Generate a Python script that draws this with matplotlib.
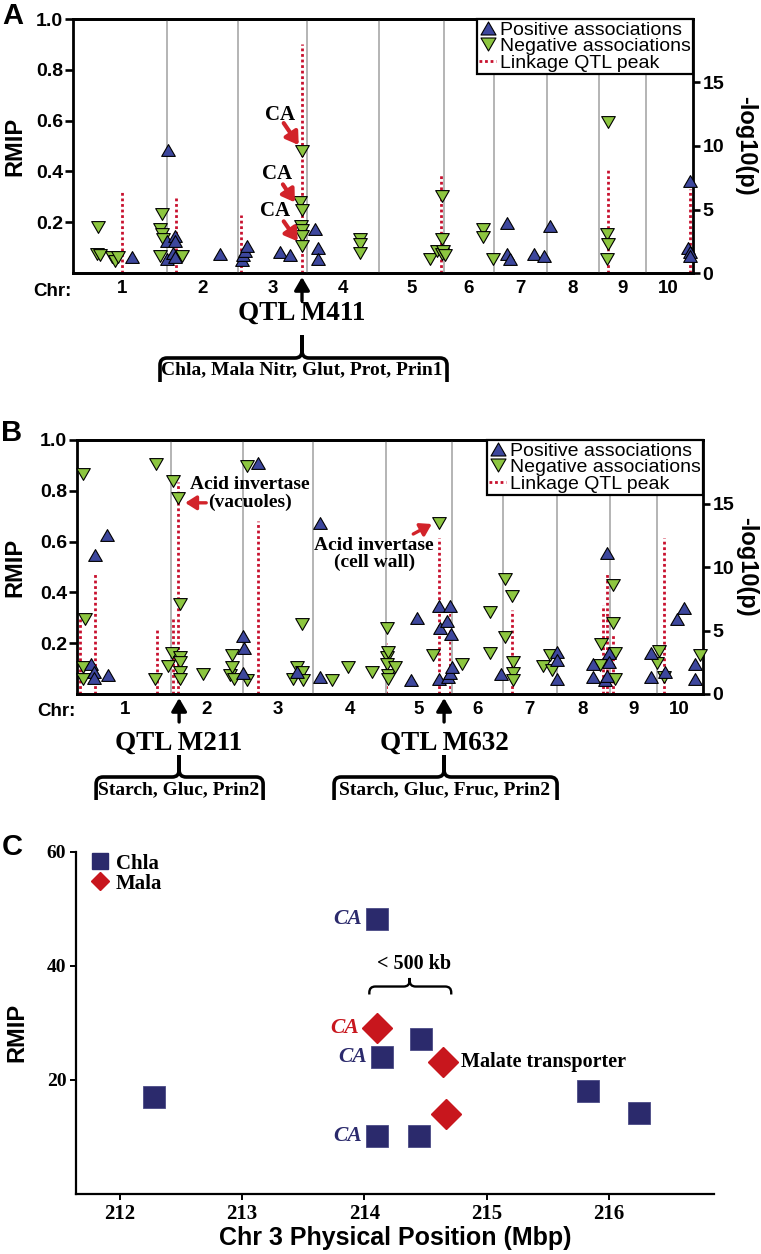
import numpy as np
import matplotlib
matplotlib.use('Agg')
import matplotlib.pyplot as plt
from matplotlib.lines import Line2D
from matplotlib.path import Path
from matplotlib.patches import PathPatch
import matplotlib.transforms as mtransforms

plt.rcParams['font.family'] = ['Liberation Sans', 'DejaVu Sans']
SERIF = ['Liberation Serif', 'DejaVu Serif']

# ------------------------------------------------------------------ data
chr_names = ['1', '2', '3', '4', '5', '6', '7', '8', '9', '10']
chr_len_mb = [301.4, 237.9, 232.2, 241.5, 217.9, 169.4, 176.8, 175.8, 156.8, 150.2]

# Panel A (genome-wide position in Mb, RMIP)
a_pos_x = [183, 300, 306, 301, 323, 328, 328, 328, 480, 552, 556, 564, 569, 681, 715,
           799, 810, 810, 1442, 1442, 1453, 1534, 1569, 1588, 2052, 2058, 2058, 2058]
a_pos_rmip = [0.062, 0.127, 0.485, 0.055, 0.080, 0.147, 0.127, 0.062, 0.075, 0.052, 0.071,
              0.088, 0.107, 0.084, 0.071, 0.173, 0.100, 0.055, 0.197, 0.075, 0.055, 0.075,
              0.066, 0.184, 0.100, 0.363, 0.081, 0.066]
a_neg_x = [68, 71, 77, 116, 127, 138, 278, 278, 284, 284, 289, 351, 748, 750, 754, 754, 754,
           754, 754, 950, 950, 950, 1185, 1207, 1224, 1224, 1224, 1229, 1235, 1364, 1364, 1397,
           1778, 1778, 1781, 1781]
a_neg_rmip = [0.075, 0.180, 0.070, 0.062, 0.048, 0.062, 0.173, 0.068, 0.232, 0.153, 0.134,
              0.068, 0.278, 0.186, 0.249, 0.169, 0.144, 0.105, 0.480, 0.134, 0.114, 0.080,
              0.055, 0.088, 0.304, 0.134, 0.075, 0.088, 0.071, 0.173, 0.140, 0.055, 0.153,
              0.055, 0.114, 0.593]
a_qtl_x = [149, 331, 550, 754, 1222, 1781, 2058]
a_qtl_logp = [6.4, 5.9, 4.6, 18.0, 7.8, 8.3, 6.6]
a_ca_x = [754, 748, 754]
a_ca_rmip = [0.480, 0.278, 0.105]
a_qtl_names = ['QTL M411']
a_qtl_pos = [755]
a_qtl_traits = ['Chla, Mala Nitr, Glut, Prot, Prin1']

# Panel B
b_pos_x = [35, 46, 46, 50, 88, 94, 539, 541, 544, 590, 717, 794, 794, 1095, 1115, 1189, 1189,
           1192, 1214, 1219, 1223, 1225, 1227, 1230, 1393, 1578, 1578, 1578, 1699, 1699, 1738,
           1744, 1744, 1752, 1752, 1889, 1889, 1937, 1977, 1999, 2036, 2036]
b_pos_rmip = [0.118, 0.088, 0.062, 0.547, 0.626, 0.075, 0.081, 0.228, 0.180, 0.911, 0.088,
              0.672, 0.066, 0.055, 0.298, 0.346, 0.058, 0.259, 0.289, 0.068, 0.081, 0.346,
              0.236, 0.107, 0.079, 0.167, 0.134, 0.058, 0.118, 0.068, 0.055, 0.554, 0.071,
              0.160, 0.127, 0.160, 0.068, 0.088, 0.294, 0.337, 0.118, 0.058]
b_neg_x = [9, 11, 11, 18, 248, 252, 290, 304, 307, 325, 331, 331, 331, 331, 331, 408, 497, 502,
           502, 508, 552, 554, 706, 717, 734, 734, 739, 835, 888, 966, 1015, 1015, 1015, 1021,
           1021, 1021, 1043, 1168, 1189, 1264, 1357, 1357, 1405, 1405, 1429, 1434, 1434, 1434,
           1532, 1554, 1561, 1721, 1724, 1763, 1763, 1771, 1771, 1909, 1918, 1933, 2052]
b_neg_rmip = [0.866, 0.107, 0.058, 0.294, 0.058, 0.906, 0.110, 0.160, 0.839, 0.770, 0.354,
              0.147, 0.127, 0.088, 0.058, 0.079, 0.075, 0.154, 0.107, 0.058, 0.055, 0.898,
              0.058, 0.107, 0.276, 0.088, 0.055, 0.055, 0.107, 0.088, 0.259, 0.147, 0.118,
              0.167, 0.075, 0.058, 0.107, 0.154, 0.672, 0.118, 0.324, 0.163, 0.451, 0.226,
              0.386, 0.127, 0.081, 0.055, 0.110, 0.154, 0.094, 0.114, 0.197, 0.429, 0.278,
              0.160, 0.058, 0.123, 0.170, 0.066, 0.154]
b_qtl_x = [1, 50, 254, 307, 323, 590, 1013, 1189, 1225, 1429, 1732, 1745, 1763, 1933]
b_qtl_logp = [6.1, 9.6, 5.2, 5.9, 16.7, 13.6, 4.0, 12.3, 6.4, 6.6, 7.0, 9.6, 4.7, 12.3]
b_vac_x, b_vac_rmip = 325, 0.770
b_cw_x, b_cw_rmip = 1189, 0.672
b_qtl_names = ['QTL M211', 'QTL M632']
b_qtl_pos = [328, 1205]
b_qtl_traits = ['Starch, Gluc, Prin2', 'Starch, Gluc, Fruc, Prin2']

# Panel C
c_chla_x = [212.28, 214.10, 214.14, 214.46, 214.10, 214.45, 215.83, 216.25]
c_chla_rmip = [17.0, 48.2, 24.0, 27.2, 10.2, 10.2, 18.0, 14.2]
c_mala_x = [214.10, 214.64, 214.67]
c_mala_rmip = [29.1, 23.2, 14.0]
c_ca_chla = [1, 2, 4]
c_ca_mala = [0]

# ------------------------------------------------------------------ style
W, H = 761, 1254
BLUE = '#3D479D'
GREEN = '#8DC640'
QRED = '#C8102E'
ARED = '#D2232A'
GREY = '#B4B4B4'
NAVY = '#2B2A6C'
CRED = '#C8161D'

TRI_UP = Path([(-1, -0.866), (1, -0.866), (0, 0.866), (-1, -0.866)],
              [Path.MOVETO, Path.LINETO, Path.LINETO, Path.CLOSEPOLY])
TRI_DN = Path([(-1, 0.866), (1, 0.866), (0, -0.866), (-1, 0.866)],
              [Path.MOVETO, Path.LINETO, Path.LINETO, Path.CLOSEPOLY])
MS = 9.8

fig = plt.figure(figsize=(W / 100, H / 100), dpi=100)
PIX = mtransforms.Affine2D().scale(1.0 / W, -1.0 / H).translate(0, 1) + fig.transFigure

chr_end = np.cumsum(chr_len_mb)
chr_start = chr_end - np.array(chr_len_mb)
chr_mid = (chr_start + chr_end) / 2


def pt(v):
    return v * 0.72


def to_px(ax, x, y):
    X, Y = ax.transData.transform((x, y))
    return X, H - Y


def brace(x0, x1, xc, yh, yend, ytip, r, lw):
    verts = [(x0, yend), (x0, yh + r), (x0, yh), (x0 + r, yh), (xc - r, yh), (xc, yh),
             (xc, yh - r), (xc, ytip),
             (x1, yend), (x1, yh + r), (x1, yh), (x1 - r, yh), (xc + r, yh), (xc, yh),
             (xc, yh - r), (xc, ytip)]
    codes = [Path.MOVETO, Path.LINETO, Path.CURVE3, Path.CURVE3, Path.LINETO, Path.CURVE3,
             Path.CURVE3, Path.LINETO] * 2
    patch = PathPatch(Path(verts, codes), transform=PIX, fill=False, lw=lw, ec='black',
                      capstyle='butt', joinstyle='round')
    fig.add_artist(patch)


def manhattan(rect, xlim, px, py, nx, ny, qx, qh, ylab_x, rlab_x):
    ax = fig.add_axes(rect)
    ax2 = ax.twinx()
    ax.set_zorder(2)
    ax2.set_zorder(1)
    ax.patch.set_visible(False)
    ax.set_xlim(xlim)
    ax.set_ylim(0, 1)
    ax2.set_ylim(0, 20)
    ax.vlines(chr_end[:-1], 0, 1, colors=GREY, lw=1.4, zorder=1)
    ax2.vlines(qx, 0, qh, colors=QRED, linestyles=(0, (1, 1)), lw=2.0)
    ax.plot(nx, ny, ls='none', marker=TRI_DN, ms=MS, mfc=GREEN, mec='black', mew=0.8,
            zorder=3, clip_on=False)
    ax.plot(px, py, ls='none', marker=TRI_UP, ms=MS, mfc=BLUE, mec='black', mew=0.8,
            zorder=3, clip_on=False)
    for a in (ax, ax2):
        for s in a.spines.values():
            s.set_linewidth(2.0)
    ax.spines['right'].set_visible(False)
    ax2.spines['left'].set_visible(False)
    ax.set_yticks([0.2, 0.4, 0.6, 0.8, 1.0], ['0.2', '0.4', '0.6', '0.8', '1.0'],
                  fontweight='bold', fontsize=14)
    ax.tick_params(axis='y', direction='out', length=5.5, width=1.9, pad=1.5)
    ax2.set_yticks([0, 5, 10, 15], ['0', '5', '10', '15'], fontweight='bold', fontsize=14)
    ax2.tick_params(axis='y', direction='out', length=5, width=1.9, pad=2)
    ax.set_xticks(chr_mid, chr_names, fontweight='bold', fontsize=13.5)
    ax.tick_params(axis='x', length=0, pad=5)
    ax.annotate('Chr:', xy=(0, 0), xycoords='axes fraction', xytext=(pt(-21), pt(-18)),
                textcoords='offset points', ha='center', va='center', fontsize=13.5,
                fontweight='bold', annotation_clip=False)
    ax.set_ylabel('RMIP', fontsize=17, fontweight='bold')
    ax.yaxis.label.set_va('center')
    ax.yaxis.set_label_coords(ylab_x, 0.5)
    ax2.set_ylabel('-log10(p)', fontsize=17, fontweight='bold', rotation=270)
    ax2.yaxis.label.set_va('center')
    ax2.yaxis.set_label_coords(rlab_x, 0.5)
    handles = [Line2D([], [], ls='none', marker=TRI_UP, ms=MS + 1, mfc=BLUE, mec='black', mew=0.8),
               Line2D([], [], ls='none', marker=TRI_DN, ms=MS + 1, mfc=GREEN, mec='black', mew=0.8),
               Line2D([], [], color=QRED, ls=(0, (1, 1)), lw=2.0)]
    leg = ax.legend(handles, ['Positive associations', 'Negative associations', 'Linkage QTL peak'],
                    loc='upper right', bbox_to_anchor=(1, 1), borderaxespad=0,
                    fancybox=False, edgecolor='black', framealpha=1, fontsize=14,
                    handlelength=0.9, handletextpad=0.2, labelspacing=-0.05, borderpad=0.1)
    leg.get_frame().set_linewidth(1.6)
    return ax, ax2


def qtl_callout(ax, xq, name, traits, below_text, half_l, half_r, yh, yend, ytip, ytrait):
    xc, y0 = to_px(ax, xq, 0)
    ax.annotate('', xy=(xc, y0 + 4), xycoords=PIX, xytext=(xc, y0 + 28), textcoords=PIX,
                arrowprops=dict(arrowstyle='-|>,head_length=0.6,head_width=0.35', color='black',
                                lw=2.4, mutation_scale=13, shrinkA=0, shrinkB=0),
                annotation_clip=False)
    fig.text(xc, y0 + below_text, name, transform=PIX, ha='center', va='center', fontsize=19.5,
             fontweight='bold', family=SERIF)
    brace(xc - half_l, xc + half_r, xc, yh, yend, ytip, 7, 2.6)
    fig.text(xc, ytrait, traits, transform=PIX, ha='center', va='center', fontsize=14,
             fontweight='bold', family=SERIF)


def red_arrow(ax, x, y, start, tip, lw=3.0, ms=12):
    base = ax.transData
    ax.annotate('', xy=(x, y), xycoords=mtransforms.offset_copy(base, fig=fig, x=tip[0], y=-tip[1], units='dots'),
                xytext=(x, y), textcoords=mtransforms.offset_copy(base, fig=fig, x=start[0], y=-start[1], units='dots'),
                arrowprops=dict(arrowstyle='-|>,head_length=0.6,head_width=0.38', color=ARED, lw=lw,
                                mutation_scale=ms, shrinkA=0, shrinkB=0),
                annotation_clip=False, zorder=5)


# ------------------------------------------------------------------ panel A
axA, axA2 = manhattan([73 / W, 1 - 273 / H, 620 / W, 254 / H], (-14, 2068),
                      a_pos_x, a_pos_rmip, a_neg_x, a_neg_rmip, a_qtl_x, a_qtl_logp,
                      -0.0935, 1.085)
ca_text = [(-22, -36), (-23, -28), (-27, -35)]
ca_start = [(-18, -28), (-17, -18), (-18, -25)]
ca_tip = [(-3, -6), (-5, 0), (-4, -5)]
for x, y, t, s, tp in zip(a_ca_x, a_ca_rmip, ca_text, ca_start, ca_tip):
    axA.annotate('CA', xy=(x, y), xytext=(pt(t[0]), -pt(t[1])), textcoords='offset points',
                 ha='center', va='center', fontsize=15, fontweight='bold', family=SERIF, zorder=6)
    red_arrow(axA, x, y, s, tp)
for name, xq, tr in zip(a_qtl_names, a_qtl_pos, a_qtl_traits):
    qtl_callout(axA, xq, name, tr, 40, 142, 145, 358, 382, 335, 370)
fig.text(13, 16, 'A', transform=PIX, ha='center', va='center', fontsize=21, fontweight='bold')

# ------------------------------------------------------------------ panel B
axB, axB2 = manhattan([77 / W, 1 - 694 / H, 626 / W, 254 / H], (-10, 2062),
                      b_pos_x, b_pos_rmip, b_neg_x, b_neg_rmip, b_qtl_x, b_qtl_logp,
                      -0.099, 1.069)
axB.annotate('Acid invertase\n(vacuoles)', xy=(b_vac_x, b_vac_rmip), xytext=(pt(72), pt(5)),
             textcoords='offset points', ha='center', va='center', fontsize=14,
             fontweight='bold', family=SERIF, linespacing=1.0, zorder=6)
red_arrow(axB, b_vac_x, b_vac_rmip, (28, 4.4), (7, 4.4), lw=2.4, ms=11)
axB.annotate('Acid invertase\n(cell wall)', xy=(b_cw_x, b_cw_rmip), xytext=(pt(-65), pt(-31)),
             textcoords='offset points', ha='center', va='center', fontsize=14,
             fontweight='bold', family=SERIF, linespacing=1.0, zorder=6)
red_arrow(axB, b_cw_x, b_cw_rmip, (-26, 10.7), (-7.5, 0.7), lw=2.4, ms=11)
b_half = [(83, 84), (110, 113)]
for name, xq, tr, (hl, hr) in zip(b_qtl_names, b_qtl_pos, b_qtl_traits, b_half):
    qtl_callout(axB, xq, name, tr, 49, hl, hr, 777, 800, 755, 790)
fig.text(12, 433, 'B', transform=PIX, ha='center', va='center', fontsize=21, fontweight='bold')

# ------------------------------------------------------------------ panel C
axC = fig.add_axes([76 / W, 1 - 1194 / H, 638 / W, 342 / H])
axC.set_xlim(211.64, 216.86)
axC.set_ylim(0, 60)
axC.spines[['top', 'right']].set_visible(False)
for s in ('left', 'bottom'):
    axC.spines[s].set_linewidth(1.6)
axC.plot(c_chla_x, c_chla_rmip, ls='none', marker='s', ms=16.5, color=NAVY, mec='#4a4a86',
         mew=0.6, clip_on=False)
axC.plot(c_mala_x, c_mala_rmip, ls='none', marker='D', ms=15.5, color=CRED, mec=CRED,
         clip_on=False)
axC.set_yticks([20, 40, 60], ['20', '40', '60'], fontweight='bold', fontsize=14, family=SERIF)
axC.set_xticks([212, 213, 214, 215, 216], ['212', '213', '214', '215', '216'],
               fontweight='bold', fontsize=15, family=SERIF)
axC.tick_params(axis='both', direction='out', length=4, width=1.4, pad=3)
axC.set_ylabel('RMIP', fontsize=17, fontweight='bold')
axC.yaxis.label.set_va('center')
axC.yaxis.set_label_coords(-0.0925, 0.471)
axC.set_xlabel('Chr 3 Physical Position (Mbp)', fontsize=18, fontweight='bold')
axC.xaxis.label.set_va('center')
axC.xaxis.set_label_coords(0.5, -0.129)
for i in c_ca_chla:
    axC.annotate('CA', xy=(c_chla_x[i], c_chla_rmip[i]), xytext=(pt(-15), 0),
                 textcoords='offset points', ha='right', va='center', fontsize=15.5,
                 fontweight='bold', fontstyle='italic', family=SERIF, color=NAVY)
for i in c_ca_mala:
    axC.annotate('CA', xy=(c_mala_x[i], c_mala_rmip[i]), xytext=(pt(-18), 0),
                 textcoords='offset points', ha='right', va='center', fontsize=15.5,
                 fontweight='bold', fontstyle='italic', family=SERIF, color=CRED)
axC.annotate('Malate transporter', xy=(c_mala_x[1], c_mala_rmip[1]), xytext=(pt(18), 0),
             textcoords='offset points', ha='left', va='center', fontsize=14.5,
             fontweight='bold', family=SERIF)
# < 500 kb bracket over the CA cluster
bx0, by = to_px(axC, 214.04, 35.0)
bx1, _ = to_px(axC, 214.71, 35.0)
bxc, byh = to_px(axC, 214.37, 36.4)
_, bytip = to_px(axC, 214.37, 37.9)
brace(bx0, bx1, bxc, byh, by, bytip, 6, 1.7)
axC.text(214.41, 40.3, '< 500 kb', ha='center', va='center', fontsize=14.5, fontweight='bold',
         family=SERIF)
c_handles = [Line2D([], [], ls='none', marker='s', ms=11, color=NAVY),
             Line2D([], [], ls='none', marker='D', ms=9.5, color=CRED)]
legC = axC.legend(c_handles, ['Chla', 'Mala'], loc='upper left', bbox_to_anchor=(0.026, 0.995),
                  frameon=False, borderpad=0, borderaxespad=0, handlelength=0.75,
                  handletextpad=0.35, labelspacing=0.0,
                  prop={'family': SERIF, 'weight': 'bold', 'size': 15})
fig.text(12, 847, 'C', transform=PIX, ha='center', va='center', fontsize=21, fontweight='bold')

fig.savefig('out.png', dpi=100)
